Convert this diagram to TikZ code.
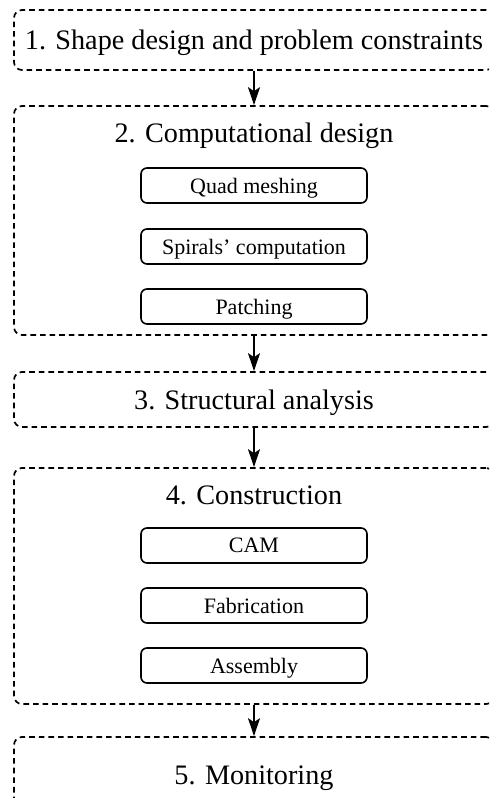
\documentclass[tikz,border=0pt]{standalone}
\usepackage{fontspec}
\setmainfont{Liberation Serif}
\usetikzlibrary{arrows.meta}

\begin{document}
\begin{tikzpicture}[x=0.5pt, y=-0.5pt,
  stage/.style={draw, dash pattern=on 2.8pt off 2pt, line width=0.85pt, rounded corners=4pt,
    minimum width=240pt, inner sep=0pt, text depth=0pt, font=\fontsize{14.1}{17}\selectfont},
  title/.style={inner sep=0pt, font=\fontsize{14.1}{17}\selectfont},
  task/.style={draw, line width=0.8pt, rounded corners=3pt, minimum width=113pt,
    minimum height=17.5pt, inner sep=0pt, text depth=0pt, font=\fontsize{11}{13}\selectfont},
  flow/.style={line width=0.8pt, -{Stealth[length=9pt, width=6pt, inset=2pt]}}]
\useasboundingbox (0,0) rectangle (489,798);
\clip (0,0) rectangle (489,798);

% stages
\node[stage, minimum height=30pt] (shape) at (254,40) {1. Shape design and problem constraints};
\node[stage, minimum height=114.5pt] (comp) at (254,220.5) {};
\node[stage, minimum height=27.5pt] (struct) at (254,399.5) {3. Structural analysis};
\node[stage, minimum height=118pt] (constr) at (254,586) {};
\node[stage, minimum height=38pt] (monitor) at (254,775) {5. Monitoring};

\node[title] (compTitle) at (254,136) {2. Computational design};
\node[title] (constrTitle) at (254,495) {4. Construction};

% tasks
\node[task] (quad) at (254,185.5) {Quad meshing};
\node[task] (spiral) at (254,246.5) {Spirals' computation};
\node[task] (patch) at (254,306.5) {Patching};
\node[task] (cam) at (254,545.5) {CAM};
\node[task] (fab) at (254,605.5) {Fabrication};
\node[task] (assembly) at (254,665.5) {Assembly};

\draw[flow] (shape.south) -- (comp.north);
\draw[flow] (comp.south) -- (struct.north);
\draw[flow] (struct.south) -- (constr.north);
\draw[flow] (constr.south) -- (monitor.north);
\end{tikzpicture}
\end{document}
